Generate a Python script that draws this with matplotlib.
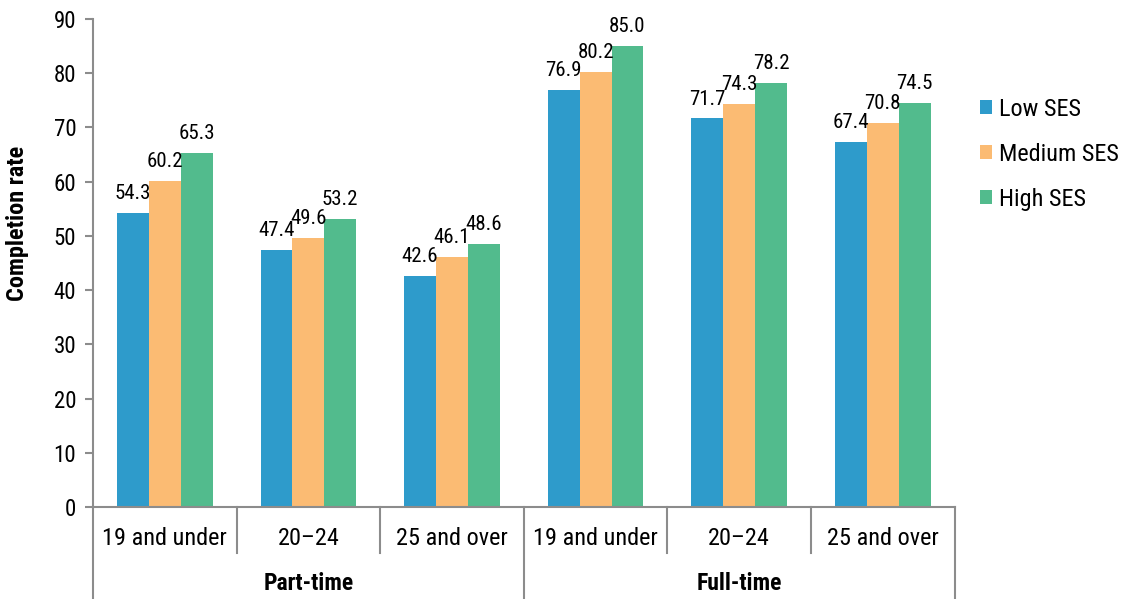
import matplotlib.pyplot as plt
from matplotlib.lines import Line2D
from matplotlib.font_manager import fontManager

# font: condensed look if available
names = {f.name for f in fontManager.ttflist}
fams = [n for n in ['Roboto Condensed', 'Liberation Sans Narrow', 'DejaVu Sans Condensed'] if n in names]
plt.rcParams['font.family'] = fams + ['Liberation Sans', 'DejaVu Sans']

# data
groups = ['Part-time', 'Full-time']
ages = ['19 and under', '20–24', '25 and over'] * 2
series = ['Low SES', 'Medium SES', 'High SES']
low = [54.3, 47.4, 42.6, 76.9, 71.7, 67.4]
medium = [60.2, 49.6, 46.1, 80.2, 74.3, 70.8]
high = [65.3, 53.2, 48.6, 85.0, 78.2, 74.5]
colors = ['#2E9BCB', '#FBBB73', '#52BB8D']

fig = plt.figure(figsize=(11.27, 5.99), dpi=100)
ax = fig.add_axes([0.0825, 0.1536, 0.7645, 0.8146])

w = 0.222
x = [i + 0.5 for i in range(6)]
for k, vals in enumerate([low, medium, high]):
    pos = [xi + (k - 1) * w for xi in x]
    ax.bar(pos, vals, width=w, color=colors[k], label=series[k], zorder=2)
    for p, v in zip(pos, vals):
        ax.text(p, v + 1.8, f'{v:.1f}', ha='center', va='bottom', fontsize=15)

ax.set_xlim(0, 6)
ax.set_ylim(0, 90)
ax.set_yticks(range(0, 91, 10))
ax.tick_params(axis='y', labelsize=16.5, length=6, color='#8C8C8C', width=1.5, pad=6)
ax.set_xticks([])
for s in ['top', 'right']:
    ax.spines[s].set_visible(False)
for s in ['left', 'bottom']:
    ax.spines[s].set_color('#8C8C8C')
    ax.spines[s].set_linewidth(1.5)

# y label sits above the axis middle, as in the original
fig.text(18 / 1127, 1 - 223 / 599, 'Completion rate', rotation=90, ha='center',
         va='center', fontsize=17.5, fontweight='bold')

# hierarchical x axis
trans = ax.get_xaxis_transform()
for i in range(7):
    long = i in (0, 3, 6)
    y1 = -0.21 if long else -0.094
    ax.add_line(Line2D([i, i], [0, y1], transform=trans, color='#8C8C8C',
                       lw=1.5, clip_on=False))
for xi, lab in zip(x, ages):
    ax.text(xi, -0.064, lab, transform=trans, ha='center', va='center', fontsize=17.5)
for j, g in enumerate(groups):
    ax.text(1.5 + 3 * j, -0.156, g, transform=trans, ha='center', va='center',
            fontsize=17, fontweight='bold')

ax.legend(loc='center left', bbox_to_anchor=(1.004, 0.723), frameon=False,
          fontsize=17.5, handlelength=0.5, handleheight=0.5, handletextpad=0.3,
          labelspacing=0.9)

fig.savefig('out.png', dpi=100)
